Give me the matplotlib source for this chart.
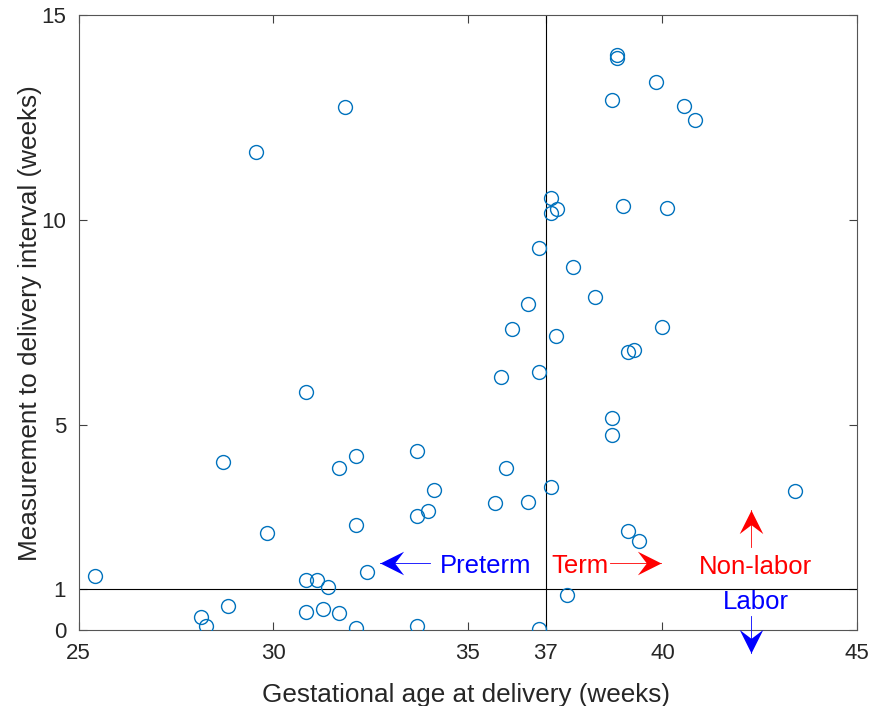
import numpy as np
import matplotlib
matplotlib.use("Agg")
import matplotlib.pyplot as plt
from matplotlib.path import Path

plt.rcParams['font.family'] = ['Liberation Sans', 'DejaVu Sans']

# Gestational age at delivery (weeks) and measurement-to-delivery interval (weeks)
ga_weeks = [25.42, 29.56, 31.84, 28.71, 30.84, 29.84, 28.14, 28.27, 28.84, 30.84,
            31.13, 31.41, 30.84, 31.28, 31.69, 32.12, 31.69, 32.12, 32.12, 32.41,
            33.70, 33.70, 33.98, 34.13, 33.70, 35.70, 35.98, 36.55, 35.85, 36.13,
            36.55, 36.83, 36.83, 36.83, 37.14, 37.14, 37.14, 37.29, 37.26, 37.70,
            37.55, 38.27, 38.70, 38.83, 38.83, 38.98, 38.70, 38.70, 39.11, 39.27,
            39.11, 39.40, 39.83, 40.55, 40.83, 40.11, 39.98, 43.40]
interval_weeks = [1.32, 11.67, 12.76, 4.11, 5.82, 2.38, 0.32, 0.10, 0.59, 1.23,
                  1.23, 1.06, 0.45, 0.52, 0.42, 0.06, 3.96, 4.25, 2.57, 1.42,
                  4.38, 2.79, 2.91, 3.42, 0.10, 3.11, 3.96, 3.13, 6.18, 7.35,
                  7.96, 6.30, 9.32, 0.03, 3.50, 10.54, 10.18, 10.28, 7.18, 8.86,
                  0.86, 8.13, 12.93, 14.03, 13.96, 10.35, 5.18, 4.76, 6.79, 6.84,
                  2.42, 2.18, 13.37, 12.79, 12.44, 10.31, 7.40, 3.40]

x_ticks = [25, 30, 35, 37, 40, 45]
y_ticks = [0, 1, 5, 10, 15]
term_cutoff = 37
labor_cutoff = 1

fig = plt.figure(figsize=(8.74, 7.06), dpi=100)
ax = fig.add_axes([0.090, 0.1072, 0.8905, 0.8711])

ax.plot(ga_weeks, interval_weeks, linestyle='none', marker='o', markersize=10,
        markerfacecolor='none', markeredgecolor='#0072BD', markeredgewidth=1.0,
        zorder=3)

ax.axvline(term_cutoff, color='black', lw=0.8, zorder=2)
ax.axhline(labor_cutoff, color='black', lw=0.8, zorder=2)

ax.set_xlim(25, 45)
ax.set_ylim(0, 15)
ax.set_xticks(x_ticks)
ax.set_yticks(y_ticks)
ax.tick_params(direction='in', length=5.5, width=0.8, color='#404040',
               labelcolor='#262626', labelsize=16, top=True, right=True, pad=9)
for sp in ax.spines.values():
    sp.set_color('#555555')
    sp.set_linewidth(0.8)

ax.set_xlabel('Gestational age at delivery (weeks)', fontsize=18.8, color='#262626')
ax.set_ylabel('Measurement to delivery interval (weeks)', fontsize=18.8, color='#262626')
ax.xaxis.label.set_va('baseline')
ax.yaxis.label.set_va('baseline')
ax.xaxis.set_label_coords(0.4976, -0.116)
ax.yaxis.set_label_coords(-0.054, 0.499)

# Stealth-style arrowheads as custom markers (tip at the marker origin)
def head(direction):
    v = np.array([(0, 0), (-1, 0.5), (-0.62, 0), (-1, -0.5), (0, 0)], float)
    rot = {'right': 0, 'left': np.pi, 'up': np.pi / 2, 'down': -np.pi / 2}[direction]
    c, s = np.cos(rot), np.sin(rot)
    v = v @ np.array([[c, s], [-s, c]])
    return Path(v, [Path.MOVETO, Path.LINETO, Path.LINETO, Path.LINETO, Path.CLOSEPOLY])

def arrow(x0, y0, x1, y1, direction, color):
    ax.plot([x0, x1], [y0, y1], color=color, lw=0.6, clip_on=False, zorder=4)
    ax.plot([x1], [y1], marker=head(direction), markersize=34, color=color,
            markeredgewidth=0, linestyle='none', clip_on=False, zorder=4)

arrow_y = 1.65
arrow(34.03, arrow_y, 32.74, arrow_y, 'left', 'blue')
arrow(38.65, arrow_y, 39.96, arrow_y, 'right', 'red')
arrow(42.27, 2.03, 42.27, 2.93, 'up', 'red')
arrow(42.27, 0.35, 42.27, -0.55, 'down', 'blue')

ax.text(35.47, 1.39, 'Preterm', color='blue', fontsize=18.5, ha='center', va='baseline', zorder=4)
ax.text(37.88, 1.39, 'Term', color='red', fontsize=18.5, ha='center', va='baseline', zorder=4)
ax.text(42.40, 1.373, 'Non-labor', color='red', fontsize=18.5, ha='center', va='baseline', zorder=4)
ax.text(42.40, 0.51, 'Labor', color='blue', fontsize=18.5, ha='center', va='baseline', zorder=4)

fig.savefig('out.png', dpi=100, facecolor='white')
